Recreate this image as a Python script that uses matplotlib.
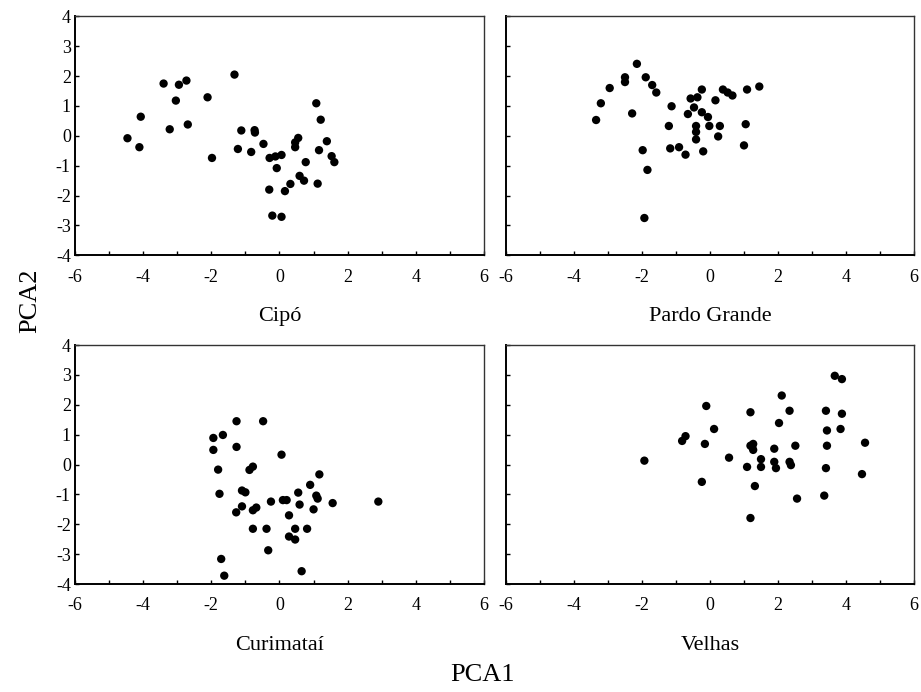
import matplotlib.pyplot as plt
from matplotlib.ticker import MultipleLocator

plt.rcParams['font.family'] = ['Liberation Serif', 'DejaVu Serif']
plt.rcParams['axes.unicode_minus'] = False

# PCA scores, one pair of lists per river
cipo_x = [-4.46, -4.11, -4.07, -3.40, -2.95, -2.73, -3.04, -3.22, -2.69, -2.11,
          -1.98, -1.32, -1.12, -1.22, -0.73, -0.72, -0.83, -0.47, -0.29, -0.12,
          0.06, -0.08, -0.30, -0.21, 0.06, 0.16, 0.32, 0.59, 0.72, 0.77,
          0.55, 0.46, 0.46, 1.08, 1.21, 1.16, 1.12, 1.39, 1.53, 1.61]
cipo_y = [-0.08, -0.38, 0.64, 1.75, 1.71, 1.85, 1.18, 0.22, 0.38, 1.29,
          -0.74, 2.05, 0.18, -0.44, 0.19, 0.11, -0.54, -0.27, -0.74, -0.69,
          -0.64, -1.08, -1.80, -2.67, -2.71, -1.85, -1.61, -1.34, -1.50, -0.88,
          -0.07, -0.22, -0.38, 1.09, 0.54, -0.48, -1.60, -0.18, -0.68, -0.88]

pardo_x = [-3.35, -3.21, -2.95, -2.50, -2.50, -2.15, -2.29, -1.89, -1.70, -1.58,
           -1.98, -1.84, -1.93, -1.13, -1.21, -1.17, -0.91, -0.72, -0.65, -0.57,
           -0.47, -0.37, -0.24, -0.24, -0.06, -0.41, -0.41, -0.41, -0.20, -0.02,
           0.16, 0.29, 0.24, 0.38, 0.52, 0.66, 1.05, 1.00, 1.09, 1.45]
pardo_y = [0.53, 1.09, 1.60, 1.96, 1.80, 2.41, 0.75, 1.96, 1.70, 1.45,
           -0.48, -1.14, -2.75, 0.99, 0.33, -0.42, -0.38, -0.63, 0.73, 1.25,
           0.95, 1.29, 1.55, 0.79, 0.63, 0.33, 0.13, -0.12, -0.52, 0.33,
           1.19, 0.33, -0.02, 1.55, 1.45, 1.35, 0.39, -0.32, 1.55, 1.65]

curimatai_x = [-1.94, -1.94, -1.66, -1.26, -1.26, -0.48, 0.06, -1.80, -1.76, -0.88,
               -0.78, -1.10, -1.00, -1.10, -1.27, -0.78, -0.68, -0.78, -0.38, -0.33,
               -0.25, 0.10, 0.21, 0.28, 0.28, 0.46, 0.46, 0.55, 0.59, 0.65,
               0.81, 0.90, 1.00, 1.08, 1.12, 1.17, 1.56, 2.90, -1.71, -1.62]
curimatai_y = [0.89, 0.49, 0.99, 1.45, 0.59, 1.45, 0.33, -0.17, -0.98, -0.18,
               -0.07, -0.87, -0.93, -1.40, -1.60, -1.53, -1.44, -2.15, -2.15, -2.87,
               -1.24, -1.19, -1.19, -1.70, -2.41, -2.15, -2.51, -0.94, -1.34, -3.57,
               -2.15, -0.68, -1.50, -1.04, -1.14, -0.33, -1.29, -1.24, -3.16, -3.72]

velhas_x = [-1.93, -0.82, -0.72, -0.15, -0.11, -0.24, 0.12, 0.56, 1.09, 1.19,
            1.19, 1.19, 1.27, 1.24, 1.27, 1.32, 1.50, 1.50, 1.89, 1.89,
            1.94, 2.03, 2.11, 2.34, 2.34, 2.38, 2.51, 2.56, 3.36, 3.41,
            3.41, 3.44, 3.44, 3.67, 3.88, 3.88, 3.84, 4.47, 4.56]
velhas_y = [0.13, 0.79, 0.95, 0.69, 1.96, -0.58, 1.19, 0.23, -0.08, 1.75,
            -1.79, 0.63, 0.69, 0.59, 0.49, -0.72, 0.18, -0.08, 0.53, 0.09,
            -0.12, 1.39, 2.31, 1.80, 0.09, -0.02, 0.63, -1.14, -1.04, 1.80,
            -0.12, 1.14, 0.63, 2.97, 2.86, 1.70, 1.19, -0.32, 0.73]

panels = [
    ('Cipó', cipo_x, cipo_y),
    ('Pardo Grande', pardo_x, pardo_y),
    ('Curimataí', curimatai_x, curimatai_y),
    ('Velhas', velhas_x, velhas_y),
]

fig = plt.figure(figsize=(9.21, 6.92), dpi=100)

# [left, bottom, width, height] for the 2x2 grid
rects = [
    [0.0814, 0.631, 0.4441, 0.3454],
    [0.5494, 0.631, 0.4430, 0.3454],
    [0.0814, 0.156, 0.4441, 0.3454],
    [0.5494, 0.156, 0.4430, 0.3454],
]

for i, (name, xs, ys) in enumerate(panels):
    ax = fig.add_axes(rects[i])
    ax.scatter(xs, ys, s=36, color='black', edgecolors='none', zorder=3)
    ax.set_xlim(-6, 6)
    ax.set_ylim(-4, 4)
    ax.xaxis.set_major_locator(MultipleLocator(2))
    ax.xaxis.set_minor_locator(MultipleLocator(1))
    ax.yaxis.set_major_locator(MultipleLocator(1))
    ax.tick_params(which='both', direction='in', length=3, width=1,
                   labelsize=13, top=False, right=False)
    ax.tick_params(axis='x', pad=9.5)
    ax.tick_params(axis='y', pad=3)
    if i % 2 == 1:
        ax.tick_params(axis='y', labelleft=False)
    for side in ['top', 'right']:
        ax.spines[side].set_linewidth(1.0)
        ax.spines[side].set_color('#333333')
    for side in ['left', 'bottom']:
        ax.spines[side].set_linewidth(1.4)
    ax.set_xlabel(name, fontsize=16, labelpad=15.5)

fig.text(0.033, 0.566, 'PCA2', rotation=90, fontsize=19, ha='center', va='center')
fig.text(0.524, 0.025, 'PCA1', fontsize=19, ha='center', va='center')

plt.savefig('out.png', dpi=100)
